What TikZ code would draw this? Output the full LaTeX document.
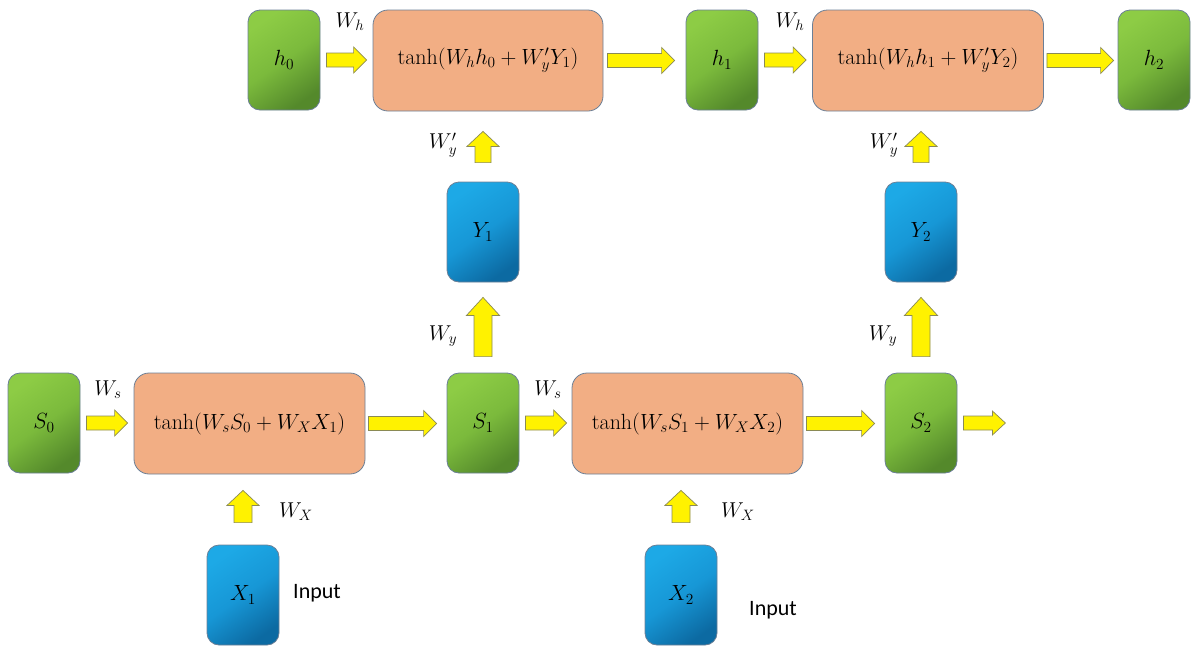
\RequirePackage{fix-cm}
\documentclass[tikz,border=0pt]{standalone}
\usepackage{fontspec}
\newfontfamily\calibri{Carlito}
\usetikzlibrary{calc}
\definecolor{gL}{HTML}{8DCC45}
\definecolor{gM}{HTML}{7BBA3C}
\definecolor{gD}{HTML}{54892B}
\definecolor{bL}{HTML}{1DA9E6}
\definecolor{bM}{HTML}{1797D6}
\definecolor{bD}{HTML}{0C6AA2}
\definecolor{orf}{HTML}{F2AE84}
\definecolor{edgec}{HTML}{6B7F96}
\definecolor{arrEdge}{HTML}{8A8A55}
\tikzset{
  box/.style={draw=edgec, line width=0.8pt, rounded corners=12pt, minimum width=72pt,
    minimum height=100pt, inner sep=0pt, font=\fontsize{22}{26}\selectfont},
  gbox/.style={box, top color=gL, bottom color=gD, middle color=gM, shading angle=35},
  bbox/.style={box, top color=bL, bottom color=bD, middle color=bM, shading angle=35},
  obox/.style={box, fill=orf, rounded corners=15pt, minimum height=101pt},
  barr/.style={draw=arrEdge, fill=yellow, line width=0.7pt, line join=miter},
  lab/.style={font=\fontsize{21.5}{26}\selectfont, inner sep=0pt},
  inlab/.style={font=\calibri\fontsize{22}{26}\selectfont, inner sep=0pt},
}
% horizontal block arrow (rightwards): start, end, shaft half, head half, head length
\newcommand\harr[5]{\draw[barr] let \p1=#1, \p2=#2 in
  (\x1,\y1+#3) -- (\x2-#5,\y1+#3) -- (\x2-#5,\y1+#4) -- (\x2,\y1)
  -- (\x2-#5,\y1-#4) -- (\x2-#5,\y1-#3) -- (\x1,\y1-#3) -- cycle;}
% vertical block arrow (upwards): start (bottom), end (top), shaft half, head half, head length
\newcommand\varr[5]{\draw[barr] let \p1=#1, \p2=#2 in
  (\x1-#3,\y1) -- (\x1-#3,\y2-#5) -- (\x1-#4,\y2-#5) -- (\x1,\y2)
  -- (\x1+#4,\y2-#5) -- (\x1+#3,\y2-#5) -- (\x1+#3,\y1) -- cycle;}
\begin{document}
\begin{tikzpicture}[x=1pt,y=-1pt]
\useasboundingbox (0,0) rectangle (1192,646);
% top row
\node[gbox] (h0) at (284,60) {$h_0$};
\node[obox, minimum width=230pt] (b1) at (488,60.5) {$\tanh\bigl(W_h h_0 + W_y' Y_1\bigr)$};
\node[gbox] (h1) at (722,60) {$h_1$};
\node[obox, minimum width=231pt] (b2) at (928,60.5) {$\tanh\bigl(W_h h_1 + W_y' Y_2\bigr)$};
\node[gbox] (h2) at (1154,60) {$h_2$};
% middle
\node[bbox] (Y1) at (483,232) {$Y_1$};
\node[bbox] (Y2) at (921,232) {$Y_2$};
% bottom row
\node[gbox] (S0) at (44,423) {$S_0$};
\node[obox, minimum width=231pt] (b3) at (249.5,423.5) {$\tanh(W_s S_0 + W_X X_1)$};
\node[gbox] (S1) at (483,423) {$S_1$};
\node[obox, minimum width=231pt] (b4) at (687.5,423.5) {$\tanh(W_s S_1 + W_X X_2)$};
\node[gbox] (S2) at (921,423) {$S_2$};
\node[bbox] (X1) at (243,595) {$X_1$};
\node[bbox] (X2) at (681,595) {$X_2$};
\coordinate (out) at ([xshift=48pt]S2.east);
% labels
\node[lab] (lh1) at (350,22) {$W_h$};
\node[lab] (lh2) at (790,22) {$W_h$};
\node[lab] (lyp1) at (443,145) {$W_y'$};
\node[lab] (lyp2) at (884,145) {$W_y'$};
\node[lab] (ly1) at (443,336) {$W_y$};
\node[lab] (ly2) at (883,336) {$W_y$};
\node[lab] (ls1) at (108,390) {$W_s$};
\node[lab] (ls2) at (548,390) {$W_s$};
\node[lab] (lx1) at (296,512) {$W_X$};
\node[lab] (lx2) at (738,512) {$W_X$};
\node[inlab] (in1) at (317,593) {Input};
\node[inlab] (in2) at (773,610) {Input};
% horizontal arrows
\harr{([xshift=6pt]h0.east)}{([xshift=-6pt]b1.west)}{7pt}{13pt}{13pt}
\harr{([xshift=4pt]b1.east)}{([xshift=-11pt]h1.west)}{7pt}{13pt}{13pt}
\harr{([xshift=6pt]h1.east)}{([xshift=-6pt]b2.west)}{7pt}{13pt}{13pt}
\harr{([xshift=3pt]b2.east)}{([xshift=-4pt]h2.west)}{7pt}{13pt}{13pt}
\harr{([xshift=6pt]S0.east)}{([xshift=-6pt]b3.west)}{7pt}{13pt}{13pt}
\harr{([xshift=3pt]b3.east)}{([xshift=-10pt]S1.west)}{7pt}{13pt}{13pt}
\harr{([xshift=6pt]S1.east)}{([xshift=-5pt]b4.west)}{7pt}{13pt}{13pt}
\harr{([xshift=3pt]b4.east)}{([xshift=-10pt]S2.west)}{7pt}{13pt}{13pt}
\harr{([xshift=6pt]S2.east)}{(out)}{7pt}{12pt}{13pt}
% vertical arrows
\varr{([yshift=19pt]Y1.north)}{([yshift=-20pt]b1.south)}{8pt}{16pt}{15pt}
\varr{([yshift=19pt]Y2.north)}{([yshift=-20pt]b2.south)}{8pt}{16pt}{15pt}
\varr{([yshift=16pt]S1.north)}{([yshift=-15pt]Y1.south)}{9pt}{16.5pt}{18pt}
\varr{([yshift=16pt]S2.north)}{([yshift=-15pt]Y2.south)}{9pt}{16.5pt}{18pt}
\varr{([yshift=22pt]X1.north)}{([yshift=-16pt]b3.south)}{9pt}{16pt}{15pt}
\varr{([yshift=22pt]X2.north)}{([yshift=-16pt]b4.south)}{9pt}{16pt}{15pt}
\end{tikzpicture}
\end{document}
